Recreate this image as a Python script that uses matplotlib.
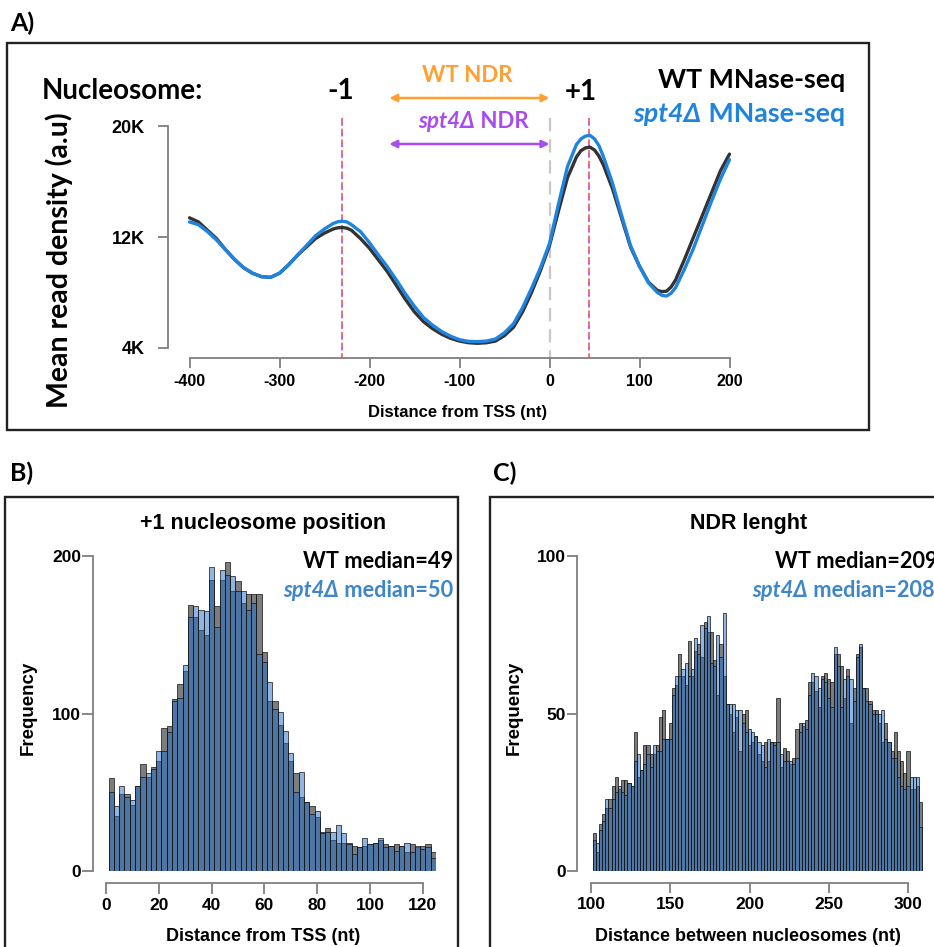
import numpy as np
import matplotlib
matplotlib.use("Agg")
import matplotlib.pyplot as plt
from matplotlib.patches import Rectangle

# ---------------- data ----------------
# Panel A: mean MNase-seq read density (thousands) around the TSS
tss_pos = [-400, -390, -380, -370, -360, -350, -340, -330, -320, -310,
           -300, -290, -280, -270, -260, -250, -240, -235, -230, -225, -220, -210,
           -200, -190, -180, -170, -160, -150, -140, -130, -120, -110,
           -100, -90, -80, -70, -60, -50, -40, -30, -20, -10,
           0, 10, 20, 30, 35, 40, 45, 50, 55, 60, 70, 80, 90,
           100, 110, 120, 125, 130, 135, 140, 150, 160, 170, 180, 190,
           200]
wt_density = [13.4, 13.1, 12.5, 11.9, 11.1, 10.4, 9.8, 9.4, 9.15, 9.1,
              9.4, 10.0, 10.7, 11.3, 11.9, 12.3, 12.6, 12.68, 12.7, 12.65, 12.5, 11.9,
              11.2, 10.35, 9.5, 8.5, 7.5, 6.6, 5.9, 5.4, 5.0, 4.7,
              4.5, 4.38, 4.34, 4.38, 4.5, 4.9, 5.5, 6.6, 8.0, 9.6,
              11.4, 13.9, 16.3, 17.8, 18.25, 18.45, 18.5, 18.3, 17.85, 17.2, 15.5, 13.4, 11.3,
              9.9, 8.75, 8.15, 8.07, 8.1, 8.4, 8.9, 10.4, 12.0, 13.6, 15.2, 16.8,
              18.0]
spt4_density = [13.1, 12.9, 12.4, 11.8, 11.1, 10.4, 9.8, 9.4, 9.15, 9.1,
                9.4, 10.0, 10.7, 11.4, 12.1, 12.6, 13.0, 13.12, 13.15, 13.1, 12.9, 12.4,
                11.6, 10.7, 9.85, 8.9, 7.9, 7.0, 6.2, 5.65, 5.2, 4.85,
                4.6, 4.48, 4.46, 4.5, 4.65, 5.1, 5.75, 6.9, 8.3, 9.8,
                11.55, 14.4, 17.1, 18.7, 19.1, 19.3, 19.35, 19.1, 18.6, 17.8, 15.9, 13.6, 11.4,
                9.9, 8.7, 8.0, 7.8, 7.75, 7.95, 8.35, 9.7, 11.2, 12.9, 14.6, 16.2,
                17.6]
density_ticks = [4, 12, 20]
density_tick_labels = ["4K", "12K", "20K"]
tss_ticks = [-400, -300, -200, -100, 0, 100, 200]
nuc_minus1 = -231
nuc_plus1 = 44
tss_mark = 0
ndr_arrow = (-178, 0)

# Panel B: +1 nucleosome position histogram (2-nt bins starting at 1)
pos_bin_left = list(range(1, 125, 2))
pos_wt = [59, 35, 49, 49, 42, 54, 68, 60, 66, 70,
          91, 92, 109, 119, 127, 169, 161, 153, 150, 185,
          168, 185, 196, 178, 184, 170, 176, 176, 176, 139,
          108, 108, 93, 81, 70, 62, 47, 44, 41, 34,
          25, 27, 20, 18, 18, 18, 16, 15, 16, 17,
          18, 20, 17, 16, 17, 16, 12, 17, 15, 16,
          17, 12]
pos_spt4 = [50, 41, 54, 47, 45, 54, 60, 62, 65, 76,
            76, 88, 108, 110, 131, 161, 168, 166, 165, 193,
            155, 191, 188, 187, 178, 178, 166, 170, 138, 133,
            120, 103, 101, 89, 75, 50, 63, 44, 36, 38,
            24, 25, 25, 29, 24, 17, 11, 15, 21, 17,
            18, 21, 15, 16, 13, 16, 18, 12, 16, 14,
            15, 8]
pos_yticks = [0, 100, 200]
pos_xticks = [0, 20, 40, 60, 80, 100, 120]

# Panel C: NDR length histogram (2-nt bins starting at 101)
ndr_bin_left = list(range(101, 309, 2))
ndr_wt = [12, 6, 15, 18, 20, 23, 27, 30, 26, 29,
          29, 28, 27, 44, 30, 32, 40, 40, 37, 37,
          40, 49, 51, 42, 47, 58, 59, 69, 62, 59,
          73, 62, 70, 72, 68, 79, 76, 76, 67, 56,
          72, 62, 53, 50, 44, 49, 38, 50, 51, 40,
          41, 43, 37, 35, 41, 35, 41, 41, 55, 33,
          39, 38, 34, 36, 45, 47, 46, 48, 60, 60,
          57, 52, 62, 63, 61, 60, 69, 69, 65, 55,
          64, 47, 58, 69, 71, 58, 58, 54, 51, 51,
          47, 41, 47, 41, 38, 44, 38, 35, 31, 38,
          26, 26, 27, 22]
ndr_spt4 = [10, 9, 13, 16, 23, 20, 23, 25, 27, 25,
            24, 28, 27, 35, 37, 32, 34, 37, 33, 40,
            38, 38, 42, 42, 42, 56, 62, 62, 64, 66,
            62, 64, 74, 69, 78, 77, 81, 66, 65, 75,
            68, 82, 53, 53, 53, 51, 51, 47, 44, 45,
            44, 43, 41, 40, 33, 42, 41, 40, 41, 37,
            35, 35, 35, 34, 36, 44, 47, 45, 56, 63,
            62, 58, 61, 60, 55, 52, 71, 65, 52, 61,
            62, 61, 54, 68, 72, 58, 54, 53, 50, 50,
            50, 51, 42, 41, 36, 36, 30, 27, 26, 27,
            30, 30, 30, 14]
ndr_yticks = [0, 50, 100]
ndr_xticks = [100, 150, 200, 250, 300]

# ---------------- style ----------------
W, H, DPI = 934, 947, 100
ANNOT = ["Lato", "DejaVu Sans"]
AXF = ["Liberation Sans", "DejaVu Sans"]
SPINE = "#7f7f7f"
WT_LINE = "#333333"
SPT4_LINE = "#1f84e0"
WT_BAR = (0, 0, 0, 0.51)
SPT4_BAR = (0.14, 0.43, 0.78, 0.51)
ORANGE = "#ffa033"
PURPLE = "#a64cf0"
MEDIAN_BLUE = "#3f86c8"
PX = 72.0 / DPI  # points per pixel

fig = plt.figure(figsize=(W / DPI, H / DPI), dpi=DPI)


def fx(x):
    return x / W


def fy(y):
    return 1 - y / H


def axes_px(x0, y0, x1, y1):
    return fig.add_axes([fx(x0), fy(y1), (x1 - x0) / W, (y1 - y0) / H])


def box(x0, y0, x1, y1):
    fig.add_artist(Rectangle((fx(x0), fy(y1)), (x1 - x0) / W, (y1 - y0) / H,
                             transform=fig.transFigure, fill=False,
                             ec="#222222", lw=1.7))


def style_axes(ax, left_out, bottom_out, ybounds, xbounds, yticks, ylabels,
               xticks, xlabels, ysize, xsize, ypad, xpad, tlen):
    for s in ("top", "right"):
        ax.spines[s].set_visible(False)
    ax.spines["left"].set_position(("outward", left_out * PX))
    ax.spines["bottom"].set_position(("outward", bottom_out * PX))
    ax.spines["left"].set_bounds(*ybounds)
    ax.spines["bottom"].set_bounds(*xbounds)
    for s in ("left", "bottom"):
        ax.spines[s].set_color(SPINE)
        ax.spines[s].set_linewidth(1.3)
    ax.set_yticks(yticks, ylabels)
    ax.set_xticks(xticks, xlabels)
    ax.tick_params(axis="y", length=tlen * PX, width=1.3, color=SPINE, pad=ypad * PX)
    ax.tick_params(axis="x", length=tlen * PX, width=1.3, color=SPINE, pad=xpad * PX)
    for lab in ax.get_xticklabels():
        lab.set_fontweight("bold")
        lab.set_family(AXF)
        lab.set_fontsize(xsize)
    for lab in ax.get_yticklabels():
        lab.set_fontweight("bold")
        lab.set_family(AXF)
        lab.set_fontsize(ysize)
    ax.patch.set_visible(False)


def rich(parts, x, y, ha, size, color):
    """Draw a run of text pieces (text, style) on one baseline at pixel (x, y)."""
    r = fig.canvas.get_renderer()
    objs = []
    for s, st in parts:
        objs.append(fig.text(0, 0, s, fontsize=size, color=color,
                             fontweight="bold", fontstyle=st, family=ANNOT,
                             va="baseline", ha="left"))
    widths = [t.get_window_extent(r).width for t in objs]
    total = sum(widths)
    cur = {"left": x, "right": x - total, "center": x - total / 2}[ha]
    for t, w in zip(objs, widths):
        t.set_position((fx(cur), fy(y)))
        cur += w


# ---------------- panel A ----------------
box(7, 43, 869, 430)
fig.text(fx(10), fy(31), "A)", fontsize=18, fontweight="bold", family=ANNOT,
         va="baseline")

PXK = 13.85  # pixels per 1K of density


def yval(py):
    return 4 + (348 - py) / PXK


axA = axes_px(189.5, 60, 729.5, 348)
axA.set_xlim(-400, 200)
axA.set_ylim(4, yval(60))
axA.plot(tss_pos, wt_density, color=WT_LINE, lw=2.4, clip_on=False,
         solid_capstyle="round", solid_joinstyle="round", zorder=3)
axA.plot(tss_pos, spt4_density, color=SPT4_LINE, lw=2.4, clip_on=False,
         solid_capstyle="round", solid_joinstyle="round", zorder=4)
for xn in (nuc_minus1, nuc_plus1):
    axA.plot([xn, xn], [yval(118), yval(358)], color="#f07272", lw=1.4,
             linestyle=(0, (3.5, 2.0)), clip_on=False, zorder=2)
    axA.plot([xn, xn], [yval(118), yval(358)], color="#c863e0", lw=1.4,
             linestyle=(3.5, (2.0, 3.5)), clip_on=False, zorder=2)
axA.plot([tss_mark, tss_mark], [yval(118), yval(358)], color="#c8c8c8", lw=1.6,
         linestyle=(0, (6, 3.5)), clip_on=False, zorder=1)
for py, col in ((98, ORANGE), (144, PURPLE)):
    axA.annotate("", xy=(ndr_arrow[1], yval(py)), xytext=(ndr_arrow[0], yval(py)),
                 arrowprops=dict(arrowstyle="<|-|>", color=col, lw=1.8,
                                 mutation_scale=11, shrinkA=0, shrinkB=0),
                 annotation_clip=False)
style_axes(axA, 21.5, 10, (4, 20), (-400, 200), density_ticks,
           density_tick_labels, tss_ticks, [str(t) for t in tss_ticks],
           13, 11.5, 13, 6, 10)
fig.text(fx(458), fy(417), "Distance from TSS (nt)", fontsize=12,
         fontweight="bold", family=AXF, ha="center", va="baseline")
fig.text(fx(59), fy(260), "Mean read density (a.u)", fontsize=20.5,
         fontweight="bold", family=ANNOT, rotation=90, ha="center", va="center")

fig.text(fx(42), fy(99), "Nucleosome:", fontsize=20, fontweight="bold",
         family=ANNOT, va="baseline")
fig.text(fx(340.5), fy(99), "-1", fontsize=20, fontweight="bold",
         family=ANNOT, va="baseline", ha="center")
fig.text(fx(580.5), fy(100), "+1", fontsize=20, fontweight="bold",
         family=ANNOT, va="baseline", ha="center")
rich([("WT NDR", "normal")], 467, 82, "center", 16, ORANGE)
rich([("spt4Δ", "italic"), (" NDR", "normal")], 473, 128, "center", 16, PURPLE)
rich([("WT MNase-seq", "normal")], 845, 88, "right", 19.3, "black")
rich([("spt4Δ", "italic"), (" MNase-seq", "normal")], 845, 122, "right", 19.3,
     SPT4_LINE)

# ---------------- panel B ----------------
box(5, 497, 458, 960)
fig.text(fx(10), fy(481), "B)", fontsize=18, fontweight="bold", family=ANNOT,
         va="baseline")
axB = axes_px(106, 871 - 210 * 1.575, 436, 871)
axB.set_xlim(0, 125)
axB.set_ylim(0, 210)
axB.bar(pos_bin_left, pos_wt, width=2, align="edge", color=WT_BAR,
        edgecolor="#111111", linewidth=0.5)
axB.bar(pos_bin_left, pos_spt4, width=2, align="edge", color=SPT4_BAR,
        edgecolor="#111111", linewidth=0.5)
style_axes(axB, 13, 12, (0, 200), (0, 120), pos_yticks,
           [str(t) for t in pos_yticks], pos_xticks,
           [str(t) for t in pos_xticks], 12.5, 12.5, 1, 4, 11)
fig.text(fx(263), fy(529), "+1 nucleosome position", fontsize=15.5,
         fontweight="bold", family=AXF, ha="center", va="baseline")
fig.text(fx(263), fy(941), "Distance from TSS (nt)", fontsize=13,
         fontweight="bold", family=AXF, ha="center", va="baseline")
fig.text(fx(28.5), fy(708), "Frequency", fontsize=13.5, fontweight="bold",
         family=AXF, rotation=90, ha="center", va="center")
rich([("WT median=49", "normal")], 453, 568, "right", 15.7, "black")
rich([("spt4Δ", "italic"), (" median=50", "normal")], 453, 597, "right", 15.7,
     MEDIAN_BLUE)

# ---------------- panel C ----------------
box(490, 497, 945, 960)
fig.text(fx(493), fy(481), "C)", fontsize=18, fontweight="bold", family=ANNOT,
         va="baseline")
axC = axes_px(591, 871 - 105 * 3.15, 591 + 210 * 1.585, 871)
axC.set_xlim(100, 310)
axC.set_ylim(0, 105)
axC.bar(ndr_bin_left, ndr_wt, width=2, align="edge", color=WT_BAR,
        edgecolor="#111111", linewidth=0.5)
axC.bar(ndr_bin_left, ndr_spt4, width=2, align="edge", color=SPT4_BAR,
        edgecolor="#111111", linewidth=0.5)
style_axes(axC, 14, 12, (0, 100), (100, 300), ndr_yticks,
           [str(t) for t in ndr_yticks], ndr_xticks,
           [str(t) for t in ndr_xticks], 12.5, 12.5, 1, 4, 10)
fig.text(fx(748.5), fy(529), "NDR lenght", fontsize=15.5, fontweight="bold",
         family=AXF, ha="center", va="baseline")
fig.text(fx(748), fy(941), "Distance between nucleosomes (nt)", fontsize=13,
         fontweight="bold", family=AXF, ha="center", va="baseline")
fig.text(fx(514.5), fy(708), "Frequency", fontsize=13.5, fontweight="bold",
         family=AXF, rotation=90, ha="center", va="center")
rich([("WT median=209", "normal")], 775, 568, "left", 15.7, "black")
rich([("spt4Δ", "italic"), (" median=208", "normal")], 752, 597, "left", 15.7,
     MEDIAN_BLUE)

fig.savefig("out.png", dpi=DPI, facecolor="white")
